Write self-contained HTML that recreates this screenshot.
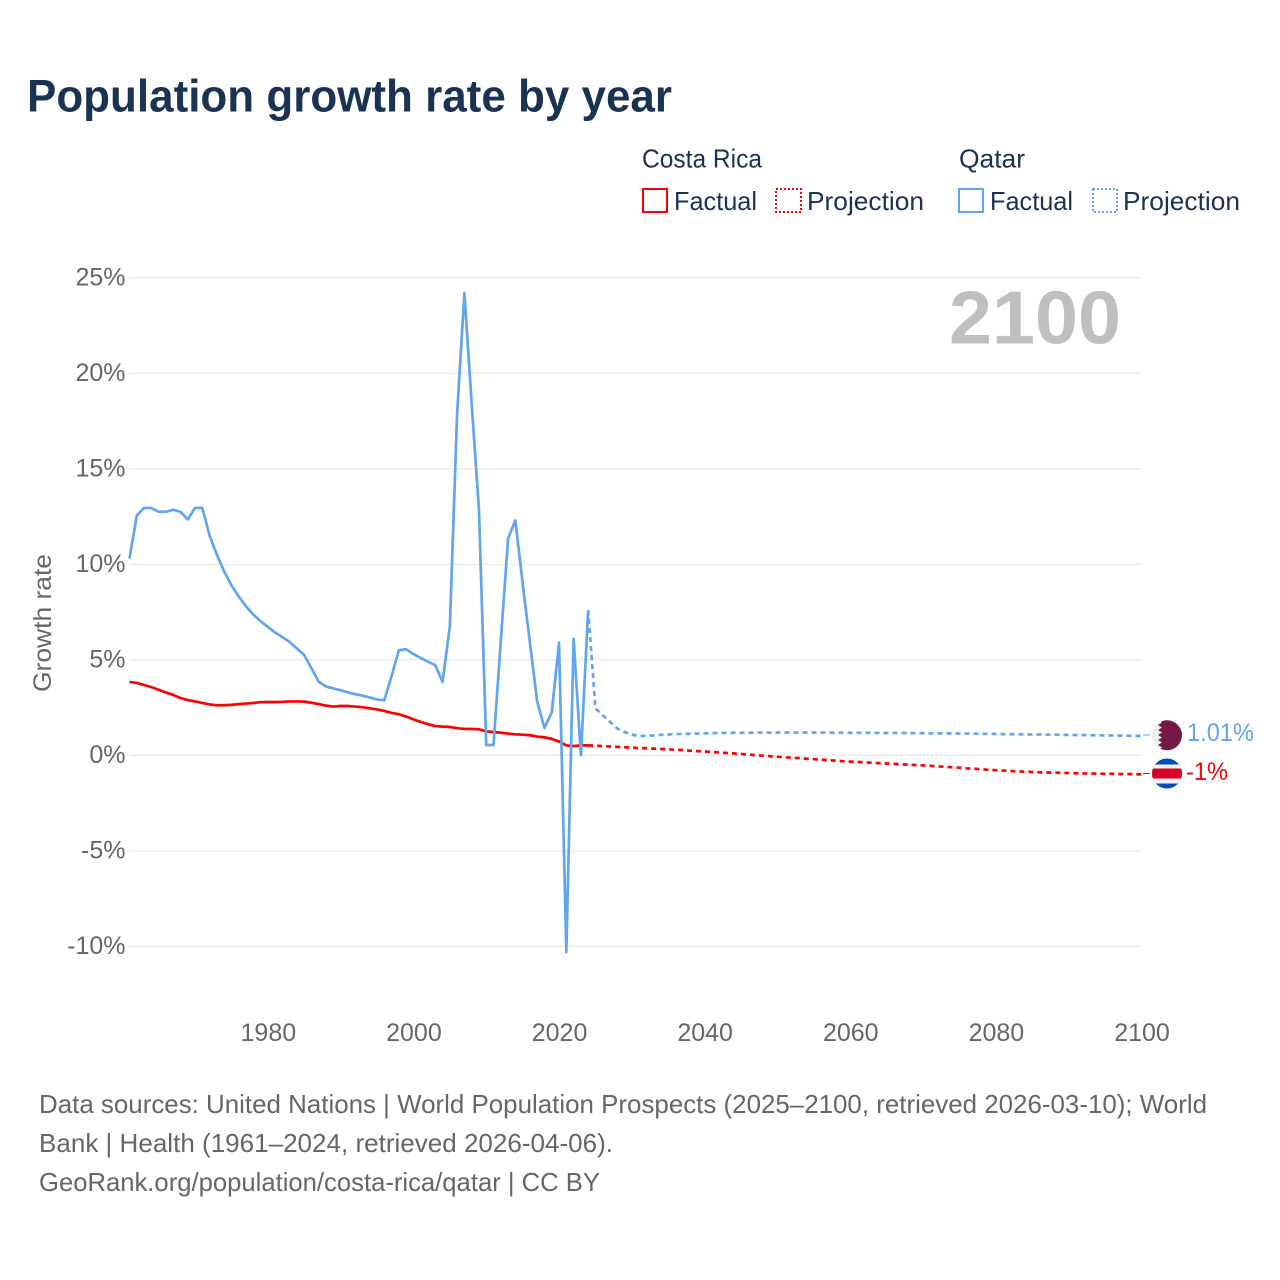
<!DOCTYPE html>
<html lang="en">
<head>
<meta charset="utf-8">
<title>Population growth rate by year</title>
<style>
  html, body { margin: 0; padding: 0; background: #ffffff; }
  svg { display: block; font-family: "Liberation Sans", sans-serif; }
</style>
</head>
<body>
<svg id="chart" width="1280" height="1280" viewBox="0 0 1280 1280" xmlns="http://www.w3.org/2000/svg">
  <rect x="0" y="0" width="1280" height="1280" fill="#ffffff"/>
  <text x="27" y="111.5" font-size="45" font-weight="700" fill="#1a3353" textLength="645" lengthAdjust="spacingAndGlyphs">Population growth rate by year</text>

  <g font-size="26" fill="#1a3353">
    <text x="642" y="167.5" textLength="120" lengthAdjust="spacingAndGlyphs">Costa Rica</text>
    <text x="959" y="167.5" textLength="66" lengthAdjust="spacingAndGlyphs">Qatar</text>
    <rect x="643" y="189" width="24" height="23" fill="none" stroke="#ff0000" stroke-width="2"/>
    <text x="674" y="210" textLength="83" lengthAdjust="spacingAndGlyphs">Factual</text>
    <rect x="776" y="189" width="25" height="23" fill="none" stroke="#ff0000" stroke-width="2" stroke-dasharray="2 2"/>
    <text x="807" y="210" textLength="117" lengthAdjust="spacingAndGlyphs">Projection</text>
    <rect x="959" y="189" width="24" height="23" fill="none" stroke="#60a5ee" stroke-width="2"/>
    <text x="990" y="210" textLength="83" lengthAdjust="spacingAndGlyphs">Factual</text>
    <rect x="1093" y="189" width="24" height="23" fill="none" stroke="#60a5ee" stroke-width="2" stroke-dasharray="2 2"/>
    <text x="1123" y="210" textLength="117" lengthAdjust="spacingAndGlyphs">Projection</text>
  </g>

  <g id="grid"></g>
  <text x="1121" y="343.5" text-anchor="end" font-size="75" font-weight="700" fill="#bfbfbf" textLength="172" lengthAdjust="spacingAndGlyphs">2100</text>
  <g id="yticks" font-size="25" fill="#666666" text-anchor="end"></g>
  <g id="xticks" font-size="25" fill="#666666" text-anchor="middle"></g>
  <text transform="translate(51 692) rotate(-90)" font-size="25" fill="#666666" textLength="138" lengthAdjust="spacingAndGlyphs">Growth rate</text>

  <g id="series"></g>

  <g>
    <clipPath id="qa-clip"><circle cx="1167" cy="735.3" r="15"/></clipPath>
    <g clip-path="url(#qa-clip)">
      <rect x="1152" y="720" width="30" height="31" fill="#f0f0f0"/>
      <polygon fill="#751a46" points="1182,720 1158,720 1162,722.5 1158,725 1162,727.5 1158,730 1162,732.5 1158,735 1162,737.5 1158,740 1162,742.5 1158,745 1162,747.5 1158,751 1182,751"/>
    </g>
    <line x1="1143" y1="735" x2="1150" y2="735" stroke="#60a5ee" stroke-width="1"/>
    <text x="1187" y="741" font-size="25" fill="#60a5ee" textLength="67" lengthAdjust="spacingAndGlyphs">1.01%</text>
  </g>
  <g>
    <clipPath id="cr-clip"><circle cx="1167" cy="773.5" r="15"/></clipPath>
    <g clip-path="url(#cr-clip)">
      <rect x="1152" y="758" width="30" height="31" fill="#0052b4"/>
      <rect x="1152" y="764.5" width="30" height="19" fill="#f0f0f0"/>
      <rect x="1152" y="768.5" width="30" height="10" fill="#d80027"/>
    </g>
    <line x1="1143" y1="773.5" x2="1150" y2="773.5" stroke="#ff0000" stroke-width="1"/>
    <text x="1186" y="780" font-size="25" fill="#ff0000" textLength="42" lengthAdjust="spacingAndGlyphs">-1%</text>
  </g>

  <g font-size="26" fill="#666666">
    <text x="39" y="1113" textLength="1168" lengthAdjust="spacingAndGlyphs">Data sources: United Nations | World Population Prospects (2025–2100, retrieved 2026-03-10); World</text>
    <text x="39" y="1152" textLength="574" lengthAdjust="spacingAndGlyphs">Bank | Health (1961–2024, retrieved 2026-04-06).</text>
    <text x="39" y="1191" textLength="561" lengthAdjust="spacingAndGlyphs">GeoRank.org/population/costa-rica/qatar | CC BY</text>
  </g>
</svg>
<script>
const factualStart = 1961;
const projectionStart = 2024;
const yTickValues = [25, 20, 15, 10, 5, 0, -5, -10];
const yTickLabels = ["25%", "20%", "15%", "10%", "5%", "0%", "-5%", "-10%"];
const xTickValues = [1980, 2000, 2020, 2040, 2060, 2080, 2100];
const xTickLabels = ["1980", "2000", "2020", "2040", "2060", "2080", "2100"];

const qatarFactual = [
  10.3, 12.55, 12.95, 12.95, 12.75, 12.75, 12.85, 12.75, 12.35, 12.95,
  12.95, 11.5, 10.5, 9.63, 8.9, 8.32, 7.8, 7.37, 7.02, 6.72,
  6.43, 6.19, 5.93, 5.59, 5.25, 4.55, 3.85, 3.6, 3.5, 3.4,
  3.3, 3.2, 3.13, 3.03, 2.92, 2.88, 4.15, 5.5, 5.55, 5.3,
  5.1, 4.9, 4.72, 3.85, 6.75, 17.9, 24.2, 18.4, 12.85, 0.54,
  0.54, 6.0, 11.35, 12.3, 9.0, 5.9, 2.8, 1.43, 2.25, 5.9,
  -10.3, 6.1, 0.0, 7.6
];
const qatarProjection = [
  7.6, 2.45, 2.1, 1.75, 1.4, 1.22,
  1.08, 1.0, 1.02, 1.04, 1.07, 1.09, 1.11, 1.12, 1.13, 1.14,
  1.15, 1.16, 1.17, 1.17, 1.18, 1.18, 1.18, 1.19, 1.19, 1.19,
  1.19, 1.19, 1.19, 1.19, 1.19, 1.19, 1.19, 1.19, 1.18, 1.18,
  1.18, 1.18, 1.18, 1.18, 1.17, 1.17, 1.17, 1.17, 1.16, 1.16,
  1.16, 1.15, 1.15, 1.15, 1.14, 1.14, 1.14, 1.13, 1.13, 1.12,
  1.12, 1.11, 1.11, 1.1, 1.1, 1.09, 1.09, 1.08, 1.08, 1.07,
  1.07, 1.06, 1.06, 1.05, 1.05, 1.04, 1.04, 1.03, 1.03, 1.02, 1.01
];
const costaRicaFactual = [
  3.84, 3.79, 3.68, 3.57, 3.43, 3.29, 3.16, 3.0, 2.89, 2.82,
  2.74, 2.66, 2.62, 2.62, 2.64, 2.68, 2.71, 2.74, 2.78, 2.79,
  2.79, 2.8, 2.82, 2.82, 2.81, 2.75, 2.68, 2.6, 2.55, 2.58,
  2.58, 2.55, 2.52, 2.46, 2.4, 2.32, 2.22, 2.15, 2.03, 1.88,
  1.75, 1.63, 1.53, 1.5, 1.48, 1.42, 1.38, 1.38, 1.36, 1.25,
  1.22, 1.18, 1.14, 1.1, 1.08, 1.05, 0.98, 0.94, 0.86, 0.72,
  0.52, 0.48, 0.52, 0.52
];
const costaRicaProjection = [
  0.52, 0.5, 0.48, 0.46, 0.44, 0.42,
  0.4, 0.38, 0.37, 0.35, 0.33, 0.31, 0.29, 0.27, 0.24, 0.22,
  0.2, 0.17, 0.15, 0.12, 0.1, 0.07, 0.04, 0.01, -0.02, -0.05,
  -0.08, -0.1, -0.13, -0.15, -0.18, -0.2, -0.23, -0.26, -0.28, -0.31,
  -0.33, -0.35, -0.37, -0.39, -0.41, -0.43, -0.45, -0.47, -0.49, -0.51,
  -0.53, -0.55, -0.58, -0.6, -0.63, -0.65, -0.68, -0.7, -0.73, -0.76,
  -0.78, -0.8, -0.82, -0.84, -0.86, -0.87, -0.89, -0.9, -0.91, -0.92,
  -0.93, -0.94, -0.95, -0.95, -0.96, -0.97, -0.97, -0.98, -0.98, -0.99, -1.0
];

const SVG_NS = "http://www.w3.org/2000/svg";
function xScale(year) { return 129.5 + (year - 1961) * (1012 / 139); }
function yScale(value) { return 755.3 - value * 19.1; }
function linePoints(values, startYear) {
  return values.map(function (v, i) {
    return xScale(startYear + i).toFixed(2) + "," + yScale(v).toFixed(2);
  }).join(" ");
}
function addSeries(values, startYear, color, dash, name) {
  const el = document.createElementNS(SVG_NS, "polyline");
  
  
  el.setAttribute("points", linePoints(values, startYear));
  el.setAttribute("fill", "none");
  el.setAttribute("stroke", color);
  el.setAttribute("stroke-width", "2.7");
  el.setAttribute("stroke-linejoin", "round");
  if (dash) el.setAttribute("stroke-dasharray", dash);
  document.getElementById("series").appendChild(el);
}

const grid = document.getElementById("grid");
const yTicks = document.getElementById("yticks");
const xTicks = document.getElementById("xticks");

yTickValues.forEach(function (v, i) {
  const gridLine = document.createElementNS(SVG_NS, "line");
  
  
  gridLine.setAttribute("x1", xScale(1961));
  gridLine.setAttribute("x2", xScale(2100));
  gridLine.setAttribute("y1", yScale(v));
  gridLine.setAttribute("y2", yScale(v));
  gridLine.setAttribute("stroke", "#ebebeb");
  gridLine.setAttribute("stroke-width", "1.3");
  grid.appendChild(gridLine);

  const label = document.createElementNS(SVG_NS, "text");
  
  
  label.setAttribute("x", 125.5);
  label.setAttribute("y", yScale(v) + 7.7);
  label.textContent = yTickLabels[i];
  yTicks.appendChild(label);
});

xTickValues.forEach(function (v, i) {
  const label = document.createElementNS(SVG_NS, "text");
  
  
  label.setAttribute("x", xScale(v) + 0.5);
  label.setAttribute("y", 1041);
  label.textContent = xTickLabels[i];
  xTicks.appendChild(label);
});

addSeries(costaRicaProjection, projectionStart, "#ff0000", "5 4", "costa-rica-projection-line");
addSeries(qatarProjection, projectionStart, "#60a5ee", "5 4", "qatar-projection-line");
addSeries(costaRicaFactual, factualStart, "#ff0000", null, "costa-rica-factual-line");
addSeries(qatarFactual, factualStart, "#60a5ee", null, "qatar-factual-line");
</script>
</body>
</html>
